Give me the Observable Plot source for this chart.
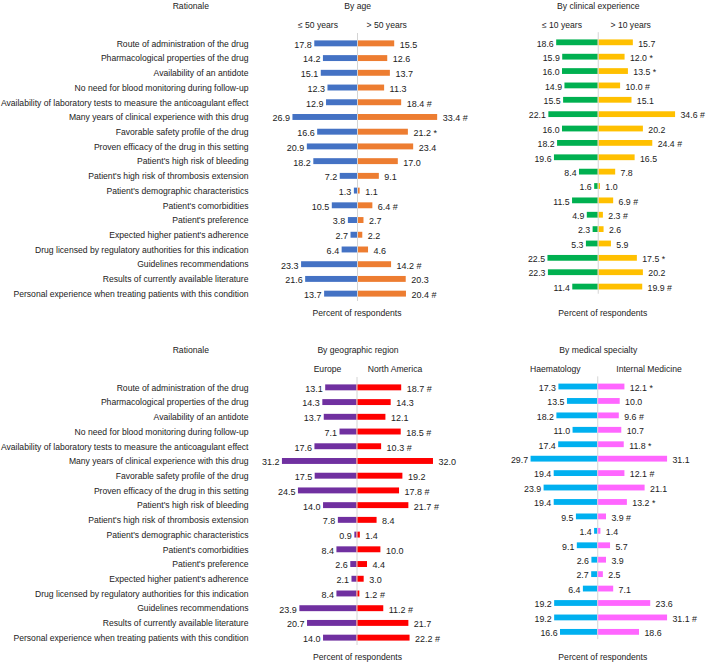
<!DOCTYPE html>
<html><head><meta charset="utf-8">
<script src="https://cdn.jsdelivr.net/npm/d3@7"></script>
<script src="https://cdn.jsdelivr.net/npm/@observablehq/plot@0.6"></script>
<style>
body{margin:0;background:#fff;font-family:"Liberation Sans",Arial,sans-serif;}
#root{position:relative;width:709px;height:662px;overflow:hidden;background:#fff;}
.lbl{position:absolute;font-size:8.6px;color:#222;white-space:nowrap;transform:translate(-50%,-50%);line-height:1;}
.panel{position:absolute;}
.panel svg{overflow:visible;}
</style></head><body><div id="root"></div>
<script>
const rationales = [
  "Route of administration of the drug",
  "Pharmacological properties of the drug",
  "Availability of an antidote",
  "No need for blood monitoring during follow-up",
  "Availability of laboratory tests to measure the anticoagulant effect",
  "Many years of clinical experience with this drug",
  "Favorable safety profile of the drug",
  "Proven efficacy of the drug in this setting",
  "Patient's high risk of bleeding",
  "Patient's high risk of thrombosis extension",
  "Patient's demographic characteristics",
  "Patient's comorbidities",
  "Patient's preference",
  "Expected higher patient's adherence",
  "Drug licensed by regulatory authorities for this indication",
  "Guidelines recommendations",
  "Results of currently available literature",
  "Personal experience when treating patients with this condition"
];

const ageLE50 = [17.8, 14.2, 15.1, 12.3, 12.9, 26.9, 16.6, 20.9, 18.2, 7.2, 1.3, 10.5, 3.8, 2.7, 6.4, 23.3, 21.6, 13.7];
const ageGT50 = [15.5, 12.6, 13.7, 11.3, 18.4, 33.4, 21.2, 23.4, 17.0, 9.1, 1.1, 6.4, 2.7, 2.2, 4.6, 14.2, 20.3, 20.4];
const ageGT50Sig = ["", "", "", "", "#", "#", "*", "", "", "", "", "#", "", "", "", "#", "", "#"];

const expLE10 = [18.6, 15.9, 16.0, 14.9, 15.5, 22.1, 16.0, 18.2, 19.6, 8.4, 1.6, 11.5, 4.9, 2.3, 5.3, 22.5, 22.3, 11.4];
const expGT10 = [15.7, 12.0, 13.5, 10.0, 15.1, 34.6, 20.2, 24.4, 16.5, 7.8, 1.0, 6.9, 2.3, 2.6, 5.9, 17.5, 20.2, 19.9];
const expGT10Sig = ["", "*", "*", "#", "", "#", "", "#", "", "", "", "#", "#", "", "", "*", "", "#"];

const europe = [13.1, 14.3, 13.7, 7.1, 17.6, 31.2, 17.5, 24.5, 14.0, 7.8, 0.9, 8.4, 2.6, 2.1, 8.4, 23.9, 20.7, 14.0];
const northAmerica = [18.7, 14.3, 12.1, 18.5, 10.3, 32.0, 19.2, 17.8, 21.7, 8.4, 1.4, 10.0, 4.4, 3.0, 1.2, 11.2, 21.7, 22.2];
const northAmericaSig = ["#", "", "", "#", "#", "", "", "#", "#", "", "", "", "", "", "#", "#", "", "#"];

const haematology = [17.3, 13.5, 18.2, 11.0, 17.4, 29.7, 19.4, 23.9, 19.4, 9.5, 1.4, 9.1, 2.6, 2.7, 6.4, 19.2, 19.2, 16.6];
const internalMed = [12.1, 10.0, 9.6, 10.7, 11.8, 31.1, 12.1, 21.1, 13.2, 3.9, 1.4, 5.7, 3.9, 2.5, 7.1, 23.6, 31.1, 18.6];
const internalMedSig = ["*", "", "#", "", "*", "", "#", "", "*", "#", "", "", "", "", "", "", "#", ""];

const root = document.getElementById("root");
const FONT = "'Liberation Sans', Arial, sans-serif";
const TXT = "#222";

function label(text, cx, cy) {
  const d = document.createElement("div");
  d.className = "lbl";
  d.textContent = text;
  d.style.left = cx + "px";
  d.style.top = cy + "px";
  root.appendChild(d);
}

const H = 325, MT = 36, MB = 24;
const yScale = {domain: rationales, axis: null, type: "band", padding: 0, round: false};

function rationalePlot(top) {
  const p = Plot.plot({
    width: 252, height: H, marginTop: MT, marginBottom: MB, marginLeft: 0, marginRight: 4,
    x: {axis: null, domain: [0, 1]},
    y: yScale,
    style: {fontSize: "8.6px", fontFamily: FONT, background: "transparent", overflow: "visible"},
    marks: [
      Plot.text(rationales, {y: d => d, frameAnchor: "right", textAnchor: "end", fill: TXT})
    ]
  });
  const w = document.createElement("div");
  w.className = "panel"; w.style.left = "0px"; w.style.top = top + "px";
  w.appendChild(p); root.appendChild(w);
}

function panel(leftVals, rightVals, rightSig, colors, ppu, cx, top) {
  const D = 50, W = 2 * D * ppu;
  const rows = rationales.map((r, i) => ({r, a: leftVals[i], b: rightVals[i], s: rightSig[i]}));
  const inset = 4.4;
  const p = Plot.plot({
    width: W, height: H, marginTop: MT, marginBottom: MB, marginLeft: 0, marginRight: 0,
    x: {domain: [-D, D], axis: null},
    y: yScale,
    style: {fontSize: "9px", fontFamily: FONT, background: "transparent", overflow: "visible"},
    marks: [
      Plot.barX(rows, {x1: 0, x2: d => -d.a, y: "r", fill: colors[0], insetTop: inset, insetBottom: inset}),
      Plot.barX(rows, {x1: 0, x2: d => d.b, y: "r", fill: colors[1], insetTop: inset, insetBottom: inset}),
      Plot.ruleX([0], {stroke: "#d4d4d4", strokeWidth: 1, insetTop: -3}),
      Plot.text(rows, {x: d => -d.a, y: "r", text: d => d.a.toFixed(1), textAnchor: "end", dx: -3, dy: 1, fill: TXT}),
      Plot.text(rows, {x: d => d.b, y: "r", text: d => d.b.toFixed(1) + (d.s ? " " + d.s : ""), textAnchor: "start", dx: 5, dy: 1, fill: TXT})
    ]
  });
  const w = document.createElement("div");
  w.className = "panel"; w.style.left = (cx - W / 2) + "px"; w.style.top = top + "px";
  w.appendChild(p); root.appendChild(w);
}

const OFF = 343.5;

// Top half
rationalePlot(0);
panel(ageLE50, ageGT50, ageGT50Sig, ["#4472C4", "#ED7D31"], 2.4, 356.7, 0);
panel(expLE10, expGT10, expGT10Sig, ["#00B050", "#FFC000"], 2.29, 600, 0);
label("Rationale", 190.8, 6);
label("By age", 357.7, 6);
label("\u2264 50 years", 318, 25);
label("> 50 years", 386.7, 25);
label("By clinical experience", 598.3, 6);
label("\u2264 10 years", 562, 25);
label("> 10 years", 630.7, 25);
label("Percent of respondents", 357, 313);
label("Percent of respondents", 602.8, 313);

// Bottom half
rationalePlot(OFF);
panel(europe, northAmerica, northAmericaSig, ["#7030A0", "#FF0000"], 2.39, 356.7, OFF);
panel(haematology, internalMed, internalMedSig, ["#00B0F0", "#FF66FF"], 2.29, 599, OFF);
label("Rationale", 190.8, 6 + OFF);
label("By geographic region", 358, 6 + OFF);
label("Europe", 327.5, 25 + OFF);
label("North America", 395, 25 + OFF);
label("By medical specialty", 598.3, 6 + OFF);
label("Haematology", 555.3, 25 + OFF);
label("Internal Medicine", 649, 25 + OFF);
label("Percent of respondents", 357.5, 313 + OFF);
label("Percent of respondents", 602.8, 313 + OFF);
</script></body></html>
